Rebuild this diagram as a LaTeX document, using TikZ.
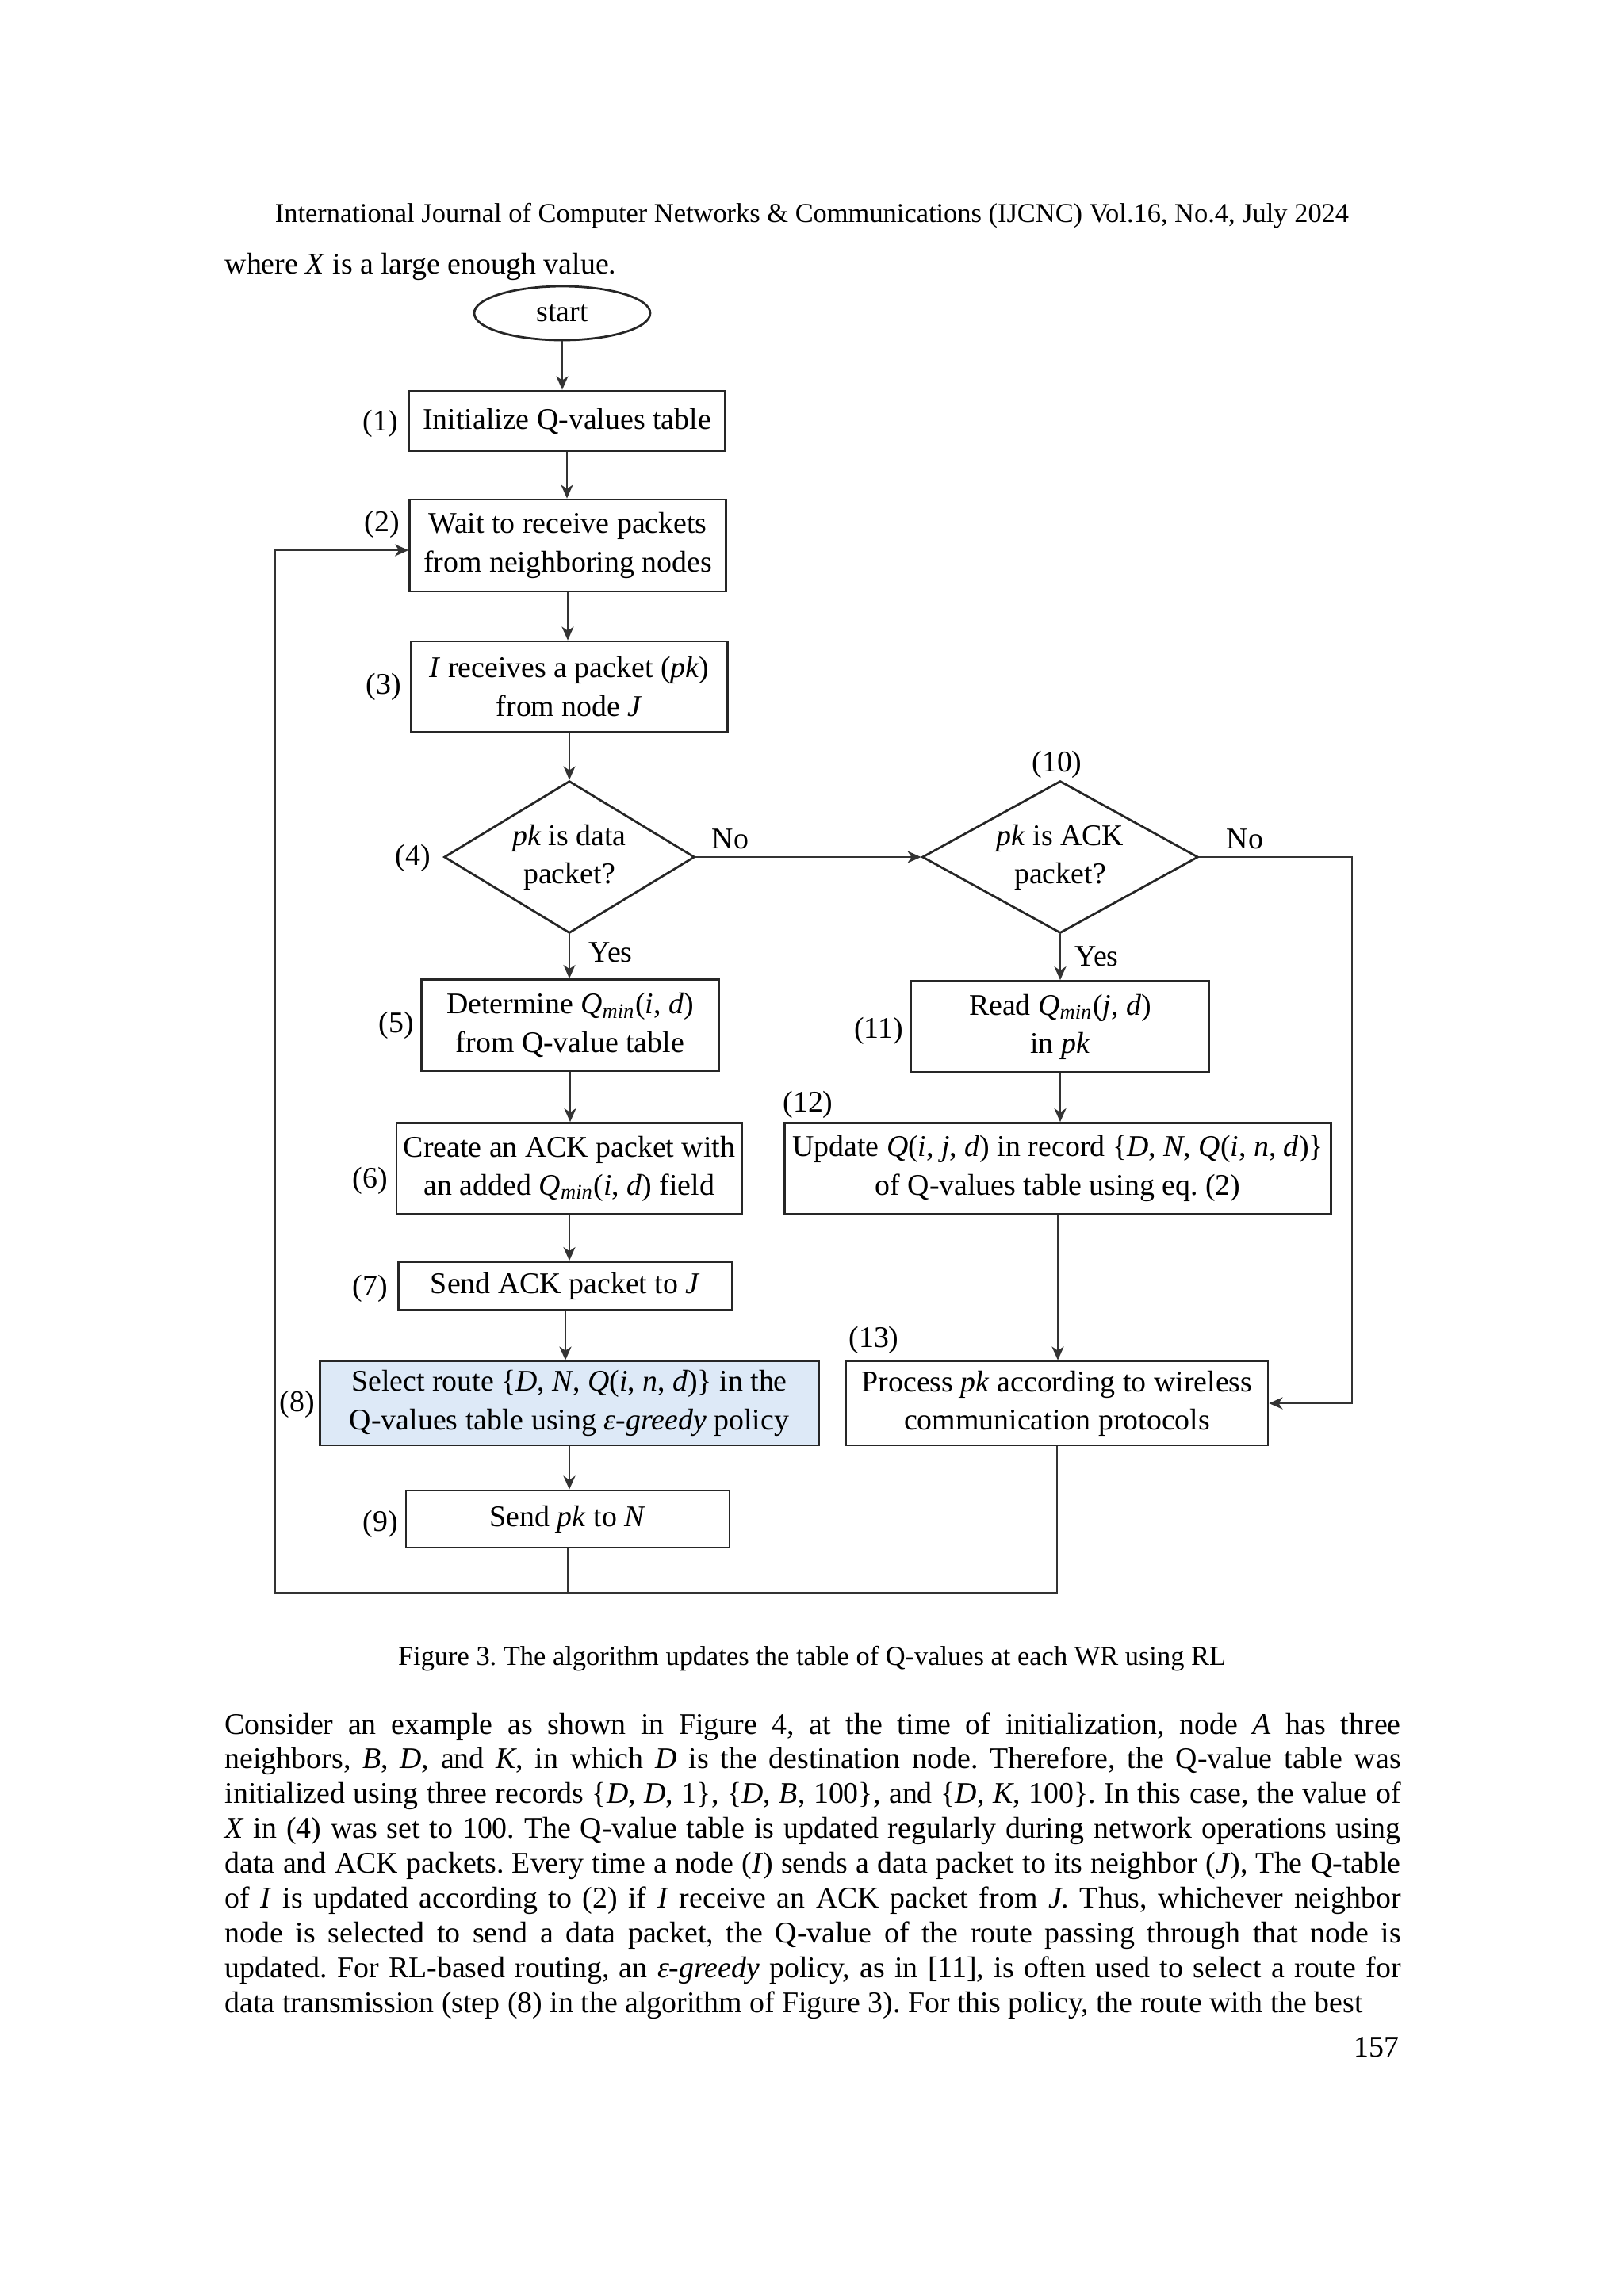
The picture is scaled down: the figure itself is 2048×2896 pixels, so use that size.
\documentclass[tikz,border=0pt]{standalone}
\usepackage{fontspec}
\setmainfont{Liberation Serif}
\usetikzlibrary{shapes.geometric,arrows.meta}
\frenchspacing
\newcommand{\Qmin}{\textit{Q}\textsubscript{\textit{min}}}
\tikzset{
  flowfont/.style={font=\fontsize{11}{14}\selectfont},
  stepbox/.style 2 args={draw=black!85, line width=0.8pt, rectangle, inner sep=0pt,
    align=center, flowfont, minimum width=#1*0.2905pt, minimum height=#2*0.2905pt},
  decide/.style 2 args={draw=black!85, line width=0.8pt, diamond, aspect=1.65, inner sep=0pt,
    align=center, flowfont, minimum width=#1*0.2905pt, minimum height=#2*0.2905pt},
  lbl/.style={flowfont, inner sep=0pt},
  arr/.style={draw=black!80, line width=0.6pt, -{Stealth[length=5pt, width=4.4pt, inset=1.5pt]}},
  ln/.style={draw=black!80, line width=0.6pt},
}
\begin{document}
\begin{tikzpicture}[x=0.2905pt, y=-0.2905pt]
\fill[white] (0,0) rectangle (2048,2896);
\useasboundingbox (0,0) rectangle (2048,2896);
% page text
\node[font=\fontsize{10}{12}\selectfont, anchor=base, inner sep=0pt] (head) at (1024,280)
  {International Journal of Computer Networks \& Communications (IJCNC) Vol.16, No.4, July 2024};
\node[font=\fontsize{11}{13}\selectfont, anchor=base west, inner sep=0pt] (where) at (283,345)
  {where \textit{X} is a large enough value.};
% flowchart
\node[draw=black!85, line width=0.8pt, ellipse, inner sep=0pt, flowfont,
      minimum width=222*0.2905pt, minimum height=68*0.2905pt] (start) at (709,395) {start};
\node[stepbox={399}{76}] (init) at (715,531) {Initialize Q-values table};
\node[stepbox={399}{116}] (wait) at (716,688) {Wait to receive packets\\from neighboring nodes};
\node[stepbox={399}{114}] (recv) at (718,866) {\textit{I} receives a packet (\textit{pk})\\from node \textit{J}};
\node[decide={316}{192}] (isdata) at (718,1081) {\textit{pk} is data\\packet?};
\node[decide={348}{192}] (isack) at (1337,1081) {\textit{pk} is ACK\\packet?};
\node[stepbox={375}{115}] (qmin) at (719,1293) {Determine \Qmin(\textit{i}, \textit{d})\\from Q-value table};
\node[stepbox={376}{115}] (readq) at (1337,1295) {Read \Qmin(\textit{j}, \textit{d})\\in \textit{pk}};
\node[stepbox={436}{115}] (mkack) at (718,1474) {Create an ACK packet with\\an added \Qmin(\textit{i}, \textit{d}) field};
\node[stepbox={689}{115}] (upd) at (1334,1474)
  {Update \textit{Q}(\textit{i}, \textit{j}, \textit{d}) in record \{\textit{D}, \textit{N}, \textit{Q}(\textit{i}, \textit{n}, \textit{d})\}\\of Q-values table using eq. (2)};
\node[stepbox={421}{61}] (sendack) at (713,1622) {Send ACK packet to \textit{J}};
\node[stepbox={629}{106}, fill={rgb,255:red,221;green,233;blue,247}] (route) at (718,1770)
  {Select route \{\textit{D}, \textit{N}, \textit{Q}(\textit{i}, \textit{n}, \textit{d})\} in the\\Q-values table using \textit{ε-greedy} policy};
\node[stepbox={532}{106}] (proc) at (1333,1770) {Process \textit{pk} according to wireless\\communication protocols};
\node[stepbox={408}{72}] (sendpk) at (716,1916) {Send \textit{pk} to \textit{N}};
% step numbers
\node[lbl] (n1) at (480,534) {(1)};
\node[lbl] (n2) at (482,661) {(2)};
\node[lbl] (n3) at (484,866) {(3)};
\node[lbl] (n4) at (521,1082) {(4)};
\node[lbl] (n5) at (500,1293) {(5)};
\node[lbl] (n6) at (467,1489) {(6)};
\node[lbl] (n7) at (467,1625) {(7)};
\node[lbl] (n8) at (375,1771) {(8)};
\node[lbl] (n9) at (480,1922) {(9)};
\node[lbl] (n10) at (1333,964) {(10)};
\node[lbl] (n11) at (1108,1300) {(11)};
\node[lbl] (n12) at (1019,1393) {(12)};
\node[lbl] (n13) at (1102,1690) {(13)};
\node[lbl] (no1) at (921,1058) {No};
\node[lbl] (yes1) at (770,1201) {Yes};
\node[lbl] (no2) at (1570,1058) {No};
\node[lbl] (yes2) at (1383,1206) {Yes};
% connectors
\draw[arr] (start.south) -- (start.south |- init.north);
\draw[arr] (init.south) -- (init.south |- wait.north);
\draw[arr] (wait.south) -- (wait.south |- recv.north);
\draw[arr] (recv.south) -- (isdata.north);
\draw[arr] (isdata.south) -- (isdata.south |- qmin.north);
\draw[arr] (qmin.south) -- (qmin.south |- mkack.north);
\draw[arr] (mkack.south) -- (mkack.south |- sendack.north);
\draw[arr] (sendack.south) -- (sendack.south |- route.north);
\draw[arr] (route.south) -- (route.south |- sendpk.north);
\draw[arr] (isdata.east) -- (isack.west);
\draw[arr] (isack.south) -- (isack.south |- readq.north);
\draw[arr] (readq.south) -- (readq.south |- upd.north);
\draw[arr] (upd.south) -- (upd.south |- proc.north);
\coordinate (rt) at (1705,1081);
\draw[arr] (isack.east) -- (rt) |- (proc.east);
\coordinate (lb) at (347,2009);
\coordinate (lt) at (347,694);
\draw[arr] (proc.south) |- (lb) -- (lt) -- (wait.west |- lt);
\draw[ln] (sendpk.south) -- (sendpk.south |- lb);
% caption and body
\node[font=\fontsize{10}{12}\selectfont, anchor=base, inner sep=0pt] (cap) at (1024,2100)
  {Figure 3. The algorithm updates the table of Q-values at each WR using RL};
\node[font=\fontsize{11}{12.75}\selectfont, anchor=base west, inner sep=0pt,
      text width=430.8pt, align=justify] (para) at (283,2187)
  {\parfillskip=0pt Consider an example as shown in Figure 4, at the time of initialization, node \textit{A} has three\linebreak
  neighbors, \textit{B}, \textit{D}, and \textit{K}, in which \textit{D} is the destination node. Therefore, the Q-value table was\linebreak
  initialized using three records \{\textit{D}, \textit{D}, 1\}, \{\textit{D}, \textit{B}, 100\}, and \{\textit{D}, \textit{K}, 100\}. In this case, the value of\linebreak
  \textit{X} in (4) was set to 100. The Q-value table is updated regularly during network operations using\linebreak
  data and ACK packets. Every time a node (\textit{I}) sends a data packet to its neighbor (\textit{J}), The Q-table\linebreak
  of \textit{I} is updated according to (2) if \textit{I} receive an ACK packet from \textit{J}. Thus, whichever neighbor\linebreak
  node is selected to send a data packet, the Q-value of the route passing through that node is\linebreak
  updated. For RL-based routing, an \textit{ε-greedy} policy, as in [11], is often used to select a route for\linebreak
  data transmission (step (8) in the algorithm of Figure 3). For this policy, the route with the best};
\node[font=\fontsize{11}{13}\selectfont, anchor=base east, inner sep=0pt] (pageno) at (1765,2594) {157};
\end{tikzpicture}
\end{document}
